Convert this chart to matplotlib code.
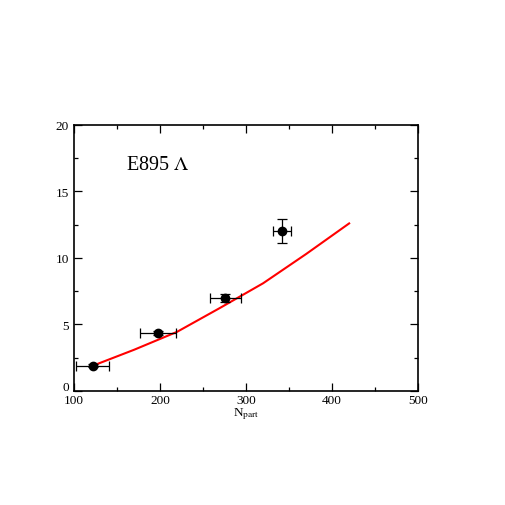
import numpy as np
import matplotlib
matplotlib.use("Agg")
import matplotlib.pyplot as plt
import matplotlib.transforms as mtransforms

plt.rcParams['font.family'] = ['Liberation Serif', 'DejaVu Serif']
plt.rcParams['mathtext.fontset'] = 'stix'

# Données E895 Lambda
npart = [122, 198, 276, 342]
npart_err = [19, 21, 18, 10.5]
valeurs = [1.9, 4.35, 7.0, 12.0]
valeurs_err = [0.1, 0.15, 0.33, 0.9]

# Courbe modèle (rouge)
courbe_x = [122, 170, 220, 270, 320, 370, 420]
courbe_y = [1.9, 3.1, 4.45, 6.25, 8.1, 10.3, 12.6]

fig = plt.figure(figsize=(5.06, 5.06), dpi=100)
ax = fig.add_axes([0.146, 0.2253, 0.68, 0.5257])

ax.plot(courbe_x, courbe_y, color='red', lw=1.5)
ax.errorbar(npart, valeurs, xerr=npart_err, yerr=valeurs_err, fmt='o',
            color='black', ms=6, elinewidth=0.9, capsize=3.5, capthick=0.9)

ax.set_xlim(100, 500)
ax.set_ylim(0, 20)
ax.set_xticks([100, 200, 300, 400, 500])
ax.set_xticks([150, 250, 350, 450], minor=True)
ax.set_yticks([0, 5, 10, 15, 20])
ax.set_yticks([2.5, 7.5, 12.5, 17.5], minor=True)
ax.tick_params(which='both', direction='in', top=True, right=True, labelsize=9.5, width=0.9)
ax.tick_params(which='major', length=6)
ax.tick_params(axis='x', pad=2)
ax.tick_params(which='minor', length=3)
for s in ax.spines.values():
    s.set_linewidth(1.2)

# le "0" de l'axe y est un peu remonté comme sur l'original
lab0 = ax.get_yticklabels()[0]
lab0.set_transform(lab0.get_transform() + mtransforms.ScaledTranslation(0, 4/72, fig.dpi_scale_trans))

ax.text(160.5, 17.0, r'E895 $\Lambda$', fontsize=14.5, va='center', ha='left')
ax.set_xlabel(r'N$_{\rm part}$', fontsize=9.5, labelpad=0)

fig.savefig('out.png', dpi=100)
